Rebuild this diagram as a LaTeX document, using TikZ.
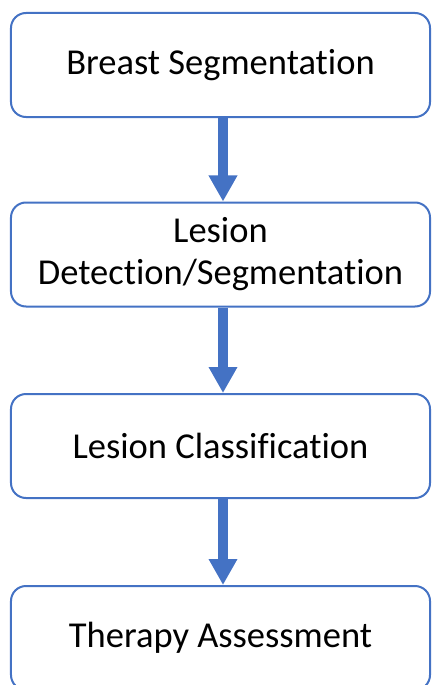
\documentclass[tikz,border=0pt]{standalone}
\usepackage{fontspec}
\setmainfont{Carlito}[Ligatures=NoCommon]
\usetikzlibrary{arrows.meta}
\definecolor{stepblue}{HTML}{4472C4}
\tikzset{
  stage/.style={draw=stepblue, line width=2bp, rounded corners=15bp, fill=white,
    minimum width=419bp, minimum height=104bp, align=center, inner sep=0pt,
    font=\fontsize{36.5bp}{42bp}\selectfont},
  flow/.style={draw=stepblue, line width=9.5bp,
    -{Triangle[width=27bp,length=26bp]}}
}
\begin{document}
\begin{tikzpicture}[x=1bp,y=-1bp]
  \useasboundingbox (0,0) rectangle (432,685);
  \clip (0,0) rectangle (432,685);
  \node[stage] (seg)   at (220.5,65)  {Breast Segmentation};
  \node[stage] (det)   at (220.5,254.5) {Lesion\\Detection/Segmentation};
  \node[stage] (cls)   at (220.5,446) {Lesion Classification};
  \node[stage] (ther)  at (220.5,638) {Therapy Assessment};
  % connectors sit slightly right of the box centres
  \draw[flow] ([xshift=2.5bp]seg.south) -- ([xshift=2.5bp]det.north);
  \draw[flow] ([xshift=2.5bp]det.south) -- ([xshift=2.5bp]cls.north);
  \draw[flow] ([xshift=2.5bp]cls.south) -- ([xshift=2.5bp]ther.north);
\end{tikzpicture}
\end{document}
